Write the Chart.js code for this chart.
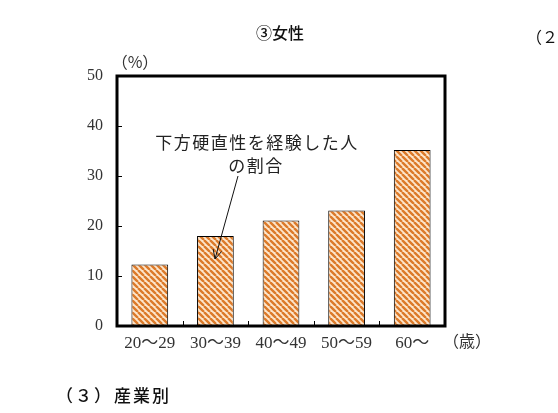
<!DOCTYPE html>
<html>
<head>
<meta charset="utf-8">
<script src="https://cdn.jsdelivr.net/npm/chart.js@4.4.1/dist/chart.umd.min.js"></script>
<style>
  html, body { margin: 0; padding: 0; background: #fff; }
  #wrap { width: 558px; height: 413px; position: relative; }
</style>
</head>
<body>
<div id="wrap"><canvas id="femaleChart"></canvas></div>
<script>
const ageGroups = ['20〜29', '30〜39', '40〜49', '50〜59', '60〜'];
const experiencedShare = [12.3, 18.0, 21.1, 23.1, 35.2];
const yTicks = [0, 10, 20, 30, 40, 50];

const serif = '"Liberation Serif", "Noto Sans CJK JP", serif';
const sans = '"Noto Sans CJK JP", "Noto Sans", sans-serif';

function makeHatch() {
    const size = 6;
    const c = document.createElement('canvas');
    c.width = size; c.height = size;
    const g = c.getContext('2d');
    g.fillStyle = '#fde6cc';
    g.fillRect(0, 0, size, size);
    g.strokeStyle = '#dc7a2a';
    g.lineWidth = 2.4;
    g.beginPath();
    // "\" stripes
    for (let k = -size; k <= size * 2; k += size) {
        g.moveTo(k, 0);
        g.lineTo(k + size, size);
    }
    g.stroke();
    return document.getElementById('femaleChart').getContext('2d').createPattern(c, 'repeat');
}

// frame, inward ticks, annotation and page texts
const decorations = {
    id: 'decorations',
    afterDatasetsDraw(chart) {
        const ctx = chart.ctx;
        const a = chart.chartArea;
        const x = chart.scales.x;
        const y = chart.scales.y;
        ctx.save();

        // inward tick marks
        ctx.strokeStyle = '#000';
        ctx.lineWidth = 1;
        ctx.beginPath();
        yTicks.forEach(v => {
            const py = Math.round(y.getPixelForValue(v)) + 0.5;
            ctx.moveTo(a.left, py);
            ctx.lineTo(a.left + 5, py);
        });
        for (let i = 1; i < ageGroups.length; i++) {
            const px = Math.round((x.getPixelForValue(i - 1) + x.getPixelForValue(i)) / 2) + 0.5;
            ctx.moveTo(px, a.bottom);
            ctx.lineTo(px, a.bottom - 5);
        }
        ctx.stroke();

        // thick plot frame
        ctx.lineWidth = 3;
        ctx.strokeRect(a.left, a.top, a.right - a.left, a.bottom - a.top);

        // annotation
        ctx.fillStyle = '#222';
        ctx.font = '17px ' + sans;
        ctx.letterSpacing = '1.5px';
        ctx.textAlign = 'center';
        ctx.textBaseline = 'middle';
        ctx.fillText('下方硬直性を経験した人', 257, 143);
        ctx.fillText('の割合', 256, 166);
        ctx.letterSpacing = '0px';

        // arrow
        const x0 = 238, y0 = 176, x1 = 215, y1 = 259;
        ctx.strokeStyle = '#111';
        ctx.lineWidth = 1;
        ctx.beginPath();
        ctx.moveTo(x0, y0);
        ctx.lineTo(x1, y1);
        const ang = Math.atan2(y1 - y0, x1 - x0);
        const len = 10;
        ctx.moveTo(x1, y1);
        ctx.lineTo(x1 - len * Math.cos(ang - 0.45), y1 - len * Math.sin(ang - 0.45));
        ctx.moveTo(x1, y1);
        ctx.lineTo(x1 - len * Math.cos(ang + 0.45), y1 - len * Math.sin(ang + 0.45));
        ctx.stroke();

        // title and unit labels
        ctx.fillStyle = '#111';
        ctx.font = '500 16px ' + sans;
        ctx.fillText('③女性', 280, 33);
        ctx.font = '16px ' + sans;
        ctx.fillStyle = '#333';
        ctx.fillText('（%）', 135, 62);
        ctx.fillText('（歳）', 467, 341);
        ctx.textAlign = 'left';
        ctx.fillStyle = '#111';
        ctx.font = '16px ' + sans;
        ctx.fillText('（２', 526, 37);
        ctx.font = '500 17px ' + sans;
        ctx.letterSpacing = '2px';
        ctx.fillText('（３）', 56, 396);
        ctx.fillText('産業別', 114, 396);
        ctx.restore();
    }
};

window.addEventListener('DOMContentLoaded', function() {
    const ctx = document.getElementById('femaleChart').getContext('2d');
    new Chart(ctx, {
        type: 'bar',
        data: {
            labels: ageGroups,
            datasets: [{
                data: experiencedShare,
                backgroundColor: makeHatch(),
                borderColor: '#000',
                borderWidth: 1,
                barPercentage: 0.56,
                categoryPercentage: 1.0
            }]
        },
        options: {
            responsive: true,
            maintainAspectRatio: false,
            animation: false,
            devicePixelRatio: 1,
            layout: { padding: { left: 0, right: 113, top: 76, bottom: 0 } },
            plugins: {
                legend: { display: false },
                tooltip: { enabled: false }
            },
            scales: {
                x: {
                    grid: { display: false, drawTicks: false },
                    border: { display: false },
                    ticks: {
                        color: '#333',
                        padding: 7,
                        font: { family: serif, size: 17 },
                        maxRotation: 0
                    },
                    afterFit(scale) { scale.height = 87; }
                },
                y: {
                    min: 0,
                    max: 50,
                    afterBuildTicks(scale) { scale.ticks = yTicks.map(v => ({ value: v })); },
                    grid: { display: false, drawTicks: false },
                    border: { display: false },
                    ticks: {
                        color: '#333',
                        padding: 14,
                        font: { family: serif, size: 16 }
                    },
                    afterFit(scale) { scale.width = 117; }
                }
            }
        },
        plugins: [decorations]
    });
});
</script>
</body>
</html>
